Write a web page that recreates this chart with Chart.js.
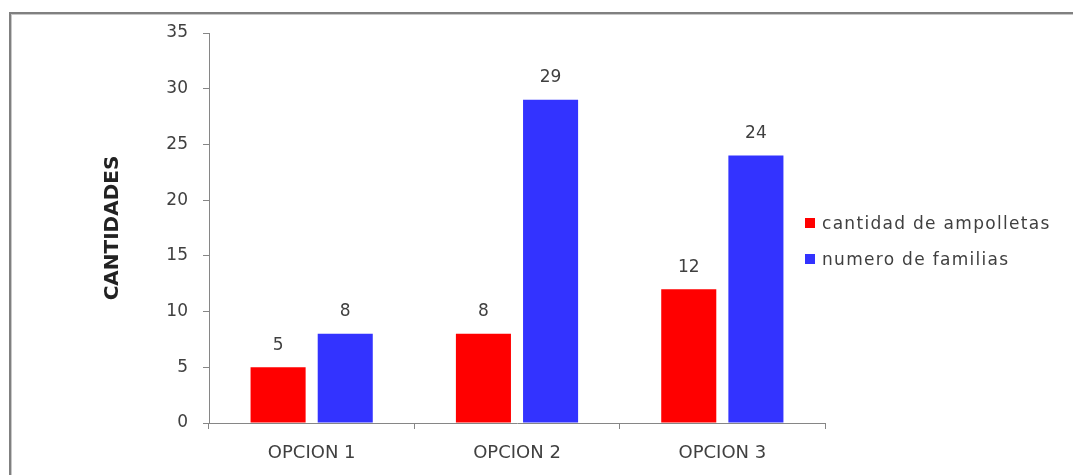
<!DOCTYPE html>
<html>
<head>
<meta charset="utf-8">
<script src="https://cdn.jsdelivr.net/npm/chart.js@4.4.0/dist/chart.umd.min.js"></script>
<style>
  body { margin: 0; background: #fff; }
  #wrap { position: relative; width: 1073px; height: 475px; overflow: hidden; }
  #frame { position: absolute; left: 9px; top: 12px; width: 1100px; height: 500px;
           border-left: 2px solid #808080; border-top: 2px solid #808080;
           box-shadow: inset 1px 1px 0 #c8c8c8; }
  #cv { position: absolute; left: 0; top: 0; }
  #legend { position: absolute; left: 805px; top: 205px; font-family: "DejaVu Sans"; font-size: 17px;
            letter-spacing: 1.3px; color: #404040; }
  #legend div { display: flex; align-items: center; height: 36px; white-space: nowrap; }
  #legend span.box { width: 10px; height: 10px; margin-right: 7px; display: inline-block; }
</style>
</head>
<body>
<div id="wrap">
  <div id="frame"></div>
  <canvas id="cv" width="1073" height="475"></canvas>
  <div id="legend"></div>
</div>
<script>
var categories = ['OPCION 1', 'OPCION 2', 'OPCION 3'];
var ampolletas = [5, 8, 12];
var familias = [8, 29, 24];
var seriesNames = ['cantidad de ampolletas', 'numero de familias'];
var seriesColors = ['#ff0000', '#3333ff'];
var yTicks = [0, 5, 10, 15, 20, 25, 30, 35];

var textColor = '#404040';
var axisColor = '#868686';
var fontFamily = '"DejaVu Sans"';

// values above each bar
var valueLabels = {
    id: 'valueLabels',
    afterDatasetsDraw: function (chart) {
        var ctx = chart.ctx;
        ctx.save();
        ctx.font = '17px ' + fontFamily;
        ctx.fillStyle = textColor;
        ctx.textAlign = 'center';
        ctx.textBaseline = 'middle';
        chart.data.datasets.forEach(function (ds, i) {
            chart.getDatasetMeta(i).data.forEach(function (bar, j) {
                ctx.fillText(ds.data[j], bar.x, bar.y - 22);
            });
        });
        ctx.restore();
    }
};

var config = {
    type: 'bar',
    data: {
        labels: categories,
        datasets: [{
            label: seriesNames[0],
            backgroundColor: seriesColors[0],
            data: ampolletas
        }, {
            label: seriesNames[1],
            backgroundColor: seriesColors[1],
            data: familias
        }]
    },
    options: {
        responsive: false,
        animation: false,
        categoryPercentage: 0.654,
        barPercentage: 0.82,
        layout: { padding: { left: 0, top: 33, right: 248, bottom: 0 } },
        plugins: {
            legend: { display: false },
            tooltip: { enabled: false }
        },
        scales: {
            x: {
                grid: { drawOnChartArea: false, color: axisColor, tickLength: 6 },
                border: { color: axisColor },
                ticks: { color: textColor, font: { family: fontFamily, size: 18 }, padding: 14 },
                afterFit: function (s) { s.height = 52; }
            },
            y: {
                min: 0,
                max: 35,
                afterBuildTicks: function (s) { s.ticks = yTicks.map(function (v) { return { value: v }; }); },
                grid: { drawOnChartArea: false, color: axisColor, tickLength: 6 },
                border: { color: axisColor },
                ticks: { color: textColor, font: { family: fontFamily, size: 17 }, padding: 15 },
                title: {
                    display: true,
                    text: 'CANTIDADES',
                    color: '#222',
                    font: { family: fontFamily, size: 20, weight: 'bold' },
                    padding: { top: 101, bottom: 0 }
                },
                afterFit: function (s) { s.width = 209; }
            }
        }
    },
    plugins: [valueLabels]
};

var ctx = document.getElementById('cv').getContext('2d');
window.myBar = new Chart(ctx, config);

var legend = document.getElementById('legend');
seriesNames.forEach(function (name, i) {
    var row = document.createElement('div');
    var box = document.createElement('span');
    box.className = 'box';
    box.style.background = seriesColors[i];
    row.appendChild(box);
    row.appendChild(document.createTextNode(name));
    legend.appendChild(row);
});
</script>
</body>
</html>
